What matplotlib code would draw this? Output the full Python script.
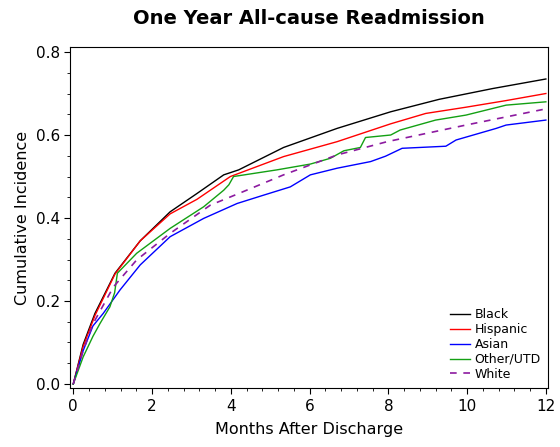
import numpy as np
import matplotlib
matplotlib.use("Agg")
import matplotlib.pyplot as plt
from matplotlib.ticker import MultipleLocator

# valores (meses, incidencia acumulada)
t_black = [0, 0.25, 0.55, 1.06, 1.7, 2.46, 3.14, 3.82, 4.2, 5.34, 6.7, 8.06, 9.29, 10.65, 12]
v_black = [0, 0.095, 0.17, 0.267, 0.345, 0.415, 0.459, 0.504, 0.516, 0.570, 0.616, 0.656, 0.686, 0.712, 0.735]

t_hisp = [0, 0.25, 0.55, 1.06, 1.7, 2.46, 3.14, 3.99, 5.34, 6.7, 8.06, 8.95, 9.97, 10.99, 12]
v_hisp = [0, 0.09, 0.165, 0.265, 0.345, 0.410, 0.445, 0.500, 0.548, 0.584, 0.627, 0.652, 0.667, 0.683, 0.700]

t_asian = [0, 0.25, 0.5, 0.76, 1.19, 1.7, 2.46, 3.31, 4.16, 4.83, 5.51, 6.02, 6.7, 7.55,
           7.93, 8.35, 9.46, 9.72, 10.74, 10.99, 12]
v_asian = [0, 0.08, 0.14, 0.17, 0.227, 0.287, 0.355, 0.399, 0.435, 0.455, 0.475, 0.504, 0.520, 0.536,
           0.549, 0.568, 0.573, 0.588, 0.616, 0.624, 0.636]

t_other = [0, 0.25, 0.5, 0.68, 0.93, 1.05, 1.12, 1.61, 2.46, 3.31, 3.82, 3.95, 4.07, 5.17, 6.02,
           6.53, 6.87, 7.29, 7.42, 8.06, 8.3, 9.2, 9.97, 10.99, 12]
v_other = [0, 0.065, 0.115, 0.146, 0.186, 0.22, 0.267, 0.315, 0.375, 0.427, 0.467, 0.48, 0.50, 0.516, 0.530,
           0.544, 0.562, 0.570, 0.594, 0.600, 0.612, 0.636, 0.648, 0.672, 0.680]

t_white = [0, 0.25, 0.5, 1.02, 1.61, 2.46, 3.48, 4.2, 5.34, 6.7, 7.97, 9.97, 12]
v_white = [0, 0.08, 0.145, 0.234, 0.299, 0.363, 0.431, 0.459, 0.504, 0.552, 0.584, 0.624, 0.663]

fig = plt.figure(figsize=(5.6, 4.47), dpi=100)
ax = fig.add_axes([0.1255, 0.1313, 0.979 - 0.1255, 0.8955 - 0.1313])

ax.plot(t_black, v_black, color='black', lw=1, label='Black')
ax.plot(t_hisp, v_hisp, color='#ff0000', lw=1, label='Hispanic')
ax.plot(t_asian, v_asian, color='#0000ff', lw=1, label='Asian')
ax.plot(t_other, v_other, color='#13a013', lw=1, label='Other/UTD')
ax.plot(t_white, v_white, color='#8c1aa0', lw=1.2, dashes=(4, 4), label='White')

ax.set_xlim(-0.076, 12.06)
ax.set_ylim(-0.0104, 0.8128)
ax.xaxis.set_major_locator(MultipleLocator(2))
ax.xaxis.set_minor_locator(MultipleLocator(0.4))
ax.yaxis.set_major_locator(MultipleLocator(0.2))
ax.yaxis.set_minor_locator(MultipleLocator(0.05))
ax.yaxis.set_major_formatter(plt.FormatStrFormatter('%.1f'))
ax.tick_params(which='major', length=4, labelsize=11)
ax.tick_params(which='minor', length=2.5)

ax.set_xlabel('Months After Discharge', fontsize=11.5, labelpad=6)
ax.set_ylabel('Cumulative Incidence', fontsize=11.5)
ax.set_title('One Year All-cause Readmission', fontsize=14, fontweight='bold', pad=16)

ax.legend(loc='lower right', frameon=False, fontsize=9, handlelength=1.6, handletextpad=0.35,
          labelspacing=0.15, borderaxespad=0.2)

fig.savefig('out.png', dpi=100)
